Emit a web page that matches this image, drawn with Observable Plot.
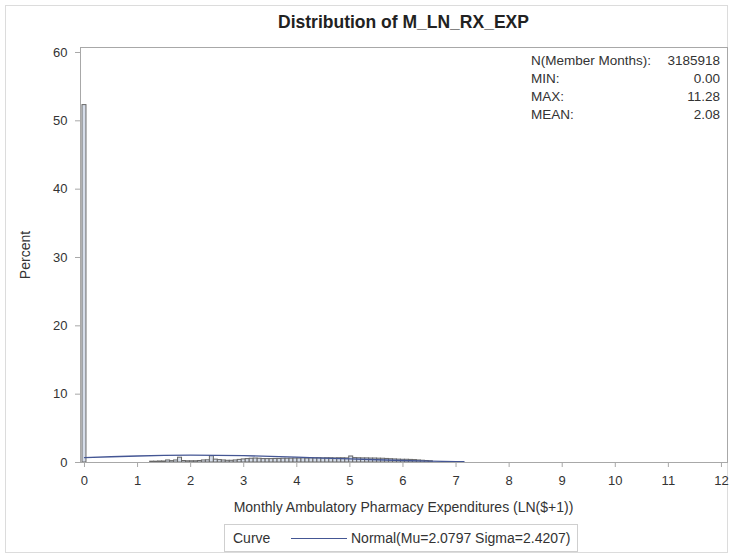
<!DOCTYPE html>
<html><head><meta charset="utf-8">
<script src="https://cdn.jsdelivr.net/npm/d3@7"></script>
<script src="https://cdn.jsdelivr.net/npm/@observablehq/plot@0.6"></script>
<style>
body{margin:0;background:#fff;font-family:Arial,"Liberation Sans",sans-serif;color:#333;}
#wrap{position:relative;width:730px;height:555px;overflow:hidden;}
#border{position:absolute;left:5px;top:5px;width:723px;height:548px;border:1px solid #dcdcdc;box-sizing:border-box;}
#chart{position:absolute;left:0;top:0;}
.abs{position:absolute;white-space:nowrap;}
#title{left:80px;width:647px;top:12px;text-align:center;font-weight:bold;font-size:17.5px;color:#222;}
#ylab{left:25px;top:255px;transform:translate(-50%,-50%) rotate(-90deg);font-size:14px;}
#xlab{left:80px;width:647px;top:499px;text-align:center;font-size:14px;}
#legend{left:224px;top:524px;width:354px;height:28px;border:1px solid #cfcfcf;box-sizing:border-box;font-size:14px;}
#legend .k{position:absolute;left:8px;top:5px;}
#legend .ln{position:absolute;left:66px;top:13px;width:56px;height:0;border-top:1px solid #445694;}
#legend .v{position:absolute;left:126px;top:5px;}
#inset{left:501px;top:47px;width:226px;height:81px;font-size:13.5px;}
#inset .row{position:absolute;left:30px;right:7px;height:18px;line-height:18px;}
#inset .row span.r{position:absolute;right:0;}
</style></head>
<body>
<div id="wrap">
  <div id="border"></div>
  <div id="chart"></div>
  <div id="title" class="abs"></div>
  <div id="ylab" class="abs"></div>
  <div id="xlab" class="abs"></div>
  <div id="inset" class="abs"></div>
  <div id="legend" class="abs"><span class="k"></span><span class="ln"></span><span class="v"></span></div>
</div>
<script>
// ---- data ----
const titleText = "Distribution of M_LN_RX_EXP";
const xLabel = "Monthly Ambulatory Pharmacy Expenditures (LN($+1))";
const yLabel = "Percent";
const xTicks = [0,1,2,3,4,5,6,7,8,9,10,11,12];
const yTicks = [0,10,20,30,40,50,60];
const binWidth = 0.075;
// histogram bin midpoints
const binMid = [0,
  1.275,1.35,1.425,1.5,1.575,1.65,1.725,1.8,1.875,1.95,2.025,2.1,2.175,2.25,2.325,2.4,
  2.475,2.55,2.625,2.7,2.775,2.85,2.925,3.0,3.075,3.15,3.225,3.3,3.375,3.45,3.525,3.6,
  3.675,3.75,3.825,3.9,3.975,4.05,4.125,4.2,4.275,4.35,4.425,4.5,4.575,4.65,4.725,4.8,
  4.875,4.95,5.025,5.1,5.175,5.25,5.325,5.4,5.475,5.55,5.625,5.7,5.775,5.85,5.925,6.0,
  6.075,6.15,6.225,6.3,6.375,6.45,6.525];
// percent per bin
const binPct = [52.3,
  0.12,0.12,0.15,0.15,0.3,0.2,0.3,0.7,0.22,0.18,0.18,0.18,0.22,0.3,0.32,0.92,
  0.42,0.35,0.3,0.25,0.25,0.3,0.38,0.45,0.5,0.55,0.58,0.55,0.5,0.5,0.5,0.52,
  0.52,0.55,0.55,0.56,0.58,0.58,0.6,0.58,0.6,0.6,0.62,0.6,0.62,0.62,0.6,0.62,
  0.62,0.6,0.88,0.64,0.62,0.6,0.6,0.58,0.58,0.56,0.55,0.52,0.48,0.45,0.42,0.4,
  0.4,0.38,0.35,0.3,0.26,0.22,0.18];
// fitted normal curve (percent)
const curveX = [0,0.5,1,1.5,2,2.5,3,3.5,4,4.5,5,5.5,6,6.5,7,7.15];
const curveY = [0.72,0.84,0.95,1.03,1.07,1.05,1.0,0.9,0.78,0.65,0.52,0.4,0.29,0.2,0.14,0.12];
const insetLabels = ["N(Member Months):","MIN:","MAX:","MEAN:"];
const insetValues = ["3185918","0.00","11.28","2.08"];
const legendKey = "Curve";
const legendText = "Normal(Mu=2.0797 Sigma=2.4207)";

// ---- build ----
const bars = binMid.map((m,i)=>({x1:m-binWidth/2, x2:m+binWidth/2, y:binPct[i]}));
const curve = curveX.map((x,i)=>({x, y:curveY[i]}));

const plot = Plot.plot({
  width:730, height:555,
  marginLeft:80, marginRight:3, marginTop:47, marginBottom:93,
  x:{domain:[-0.075,12.114]},
  y:{domain:[0,60.73]},
  style:{fontFamily:"Arial, 'Liberation Sans', sans-serif", fontSize:"13px", color:"#333", background:"transparent", overflow:"visible"},
  marks:[
    Plot.rectY(bars,{x1:"x1",x2:"x2",y:"y",fill:"#d6dde9",stroke:"#666",strokeWidth:1}),
    Plot.line(curve,{x:"x",y:"y",stroke:"#445694",strokeWidth:1.3}),
    Plot.frame({stroke:"#a8a8a8"}),
    Plot.axisX({ticks:xTicks,tickSize:5,tickPadding:8,stroke:"#a8a8a8",fill:"#333",label:null,tickFormat:d=>String(d)}),
    Plot.axisY({ticks:yTicks,tickSize:5,tickPadding:8,stroke:"#a8a8a8",fill:"#333",label:null,tickFormat:d=>String(d)})
  ]
});
document.getElementById("chart").appendChild(plot);
document.getElementById("title").textContent = titleText;
document.getElementById("ylab").textContent = yLabel;
document.getElementById("xlab").textContent = xLabel;
const inset = document.getElementById("inset");
insetLabels.forEach((l,i)=>{
  const r = document.createElement("div");
  r.className="row"; r.style.top=(5+i*18)+"px";
  r.innerHTML = "<span></span><span class='r'></span>";
  r.children[0].textContent=l; r.children[1].textContent=insetValues[i];
  inset.appendChild(r);
});
document.querySelector("#legend .k").textContent = legendKey;
document.querySelector("#legend .v").textContent = legendText;
</script>
</body></html>
